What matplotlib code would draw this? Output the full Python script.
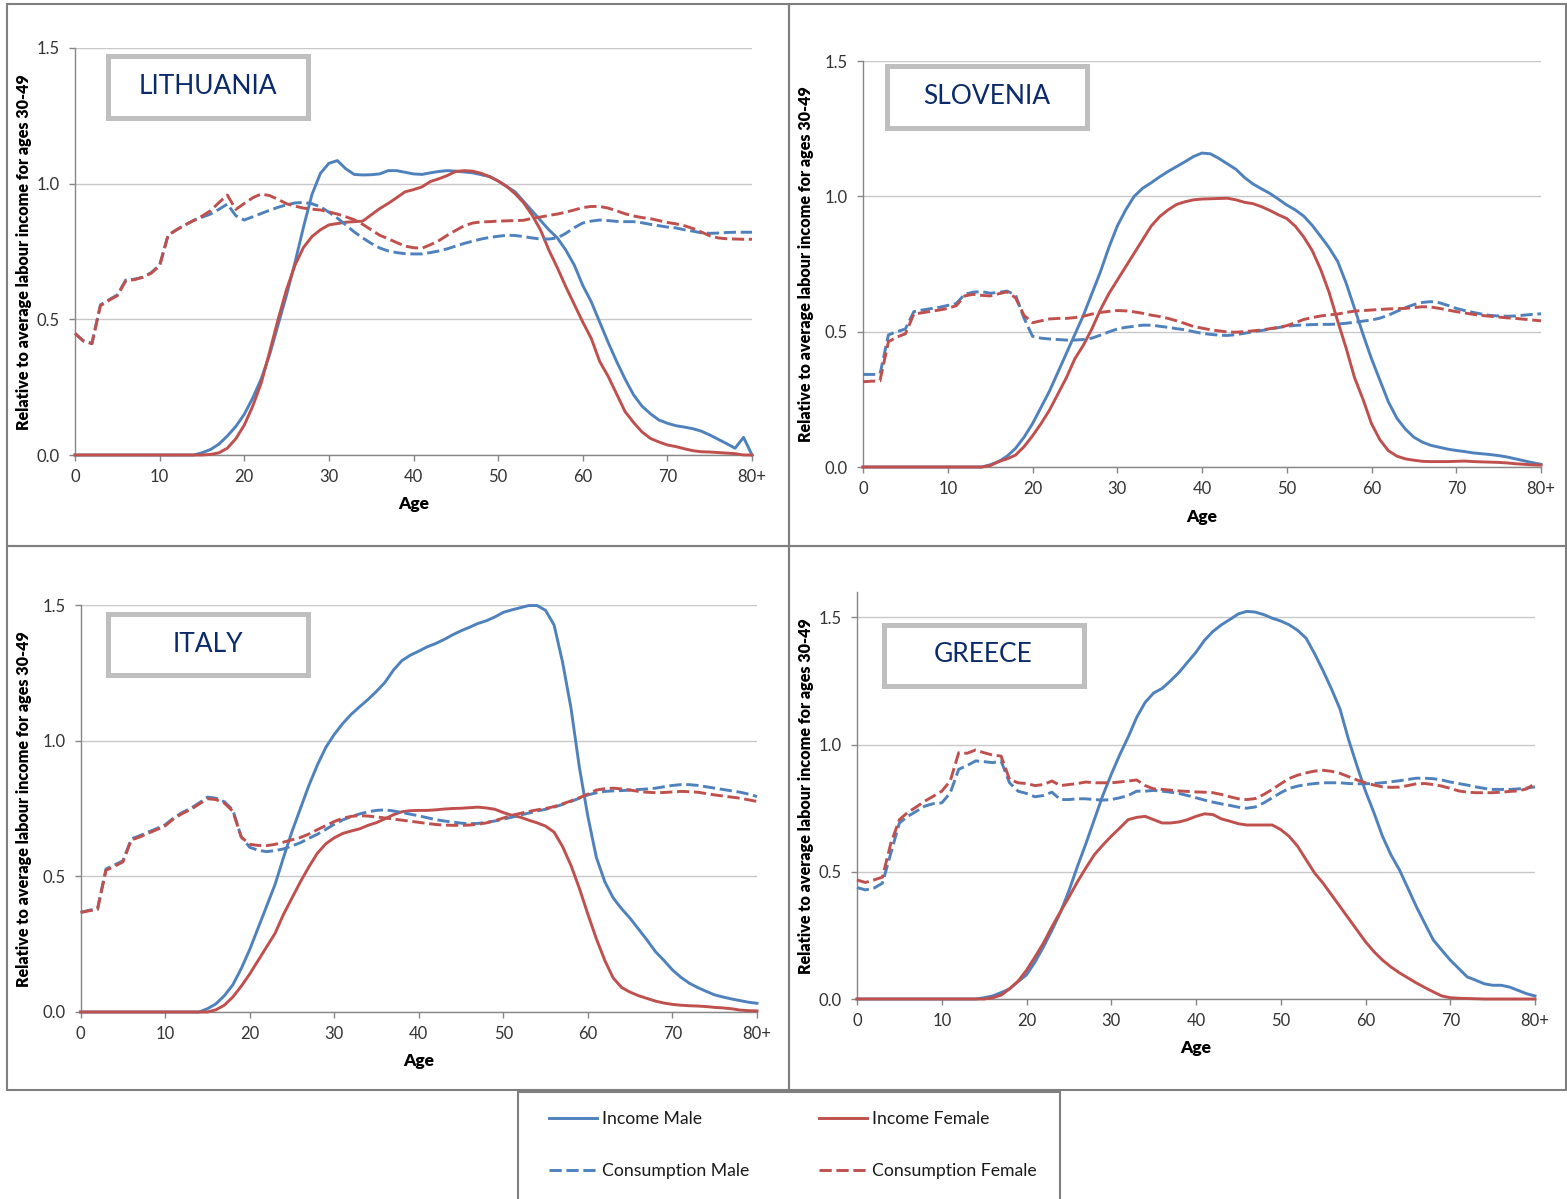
import matplotlib
matplotlib.use("Agg")
import matplotlib.pyplot as plt
from matplotlib.patches import Rectangle
from matplotlib.lines import Line2D

# ---------------- DATA ----------------
ages = list(range(0, 81))
age_ticks = [0, 10, 20, 30, 40, 50, 60, 70, 80]
age_tick_labels = ["0", "10", "20", "30", "40", "50", "60", "70", "80+"]
value_ticks = [0.0, 0.5, 1.0, 1.5]
series_names = ["Income Male", "Income Female", "Consumption Male", "Consumption Female"]
countries = ["LITHUANIA", "SLOVENIA", "ITALY", "GREECE"]

# Lithuania
lt_income_male = [0, 0, 0, 0, 0, 0, 0, 0, 0, 0, 0, 0, 0, 0, 0.0,
                  0.008, 0.02, 0.04, 0.07, 0.105, 0.15, 0.21, 0.28, 0.37, 0.48, 0.59, 0.71, 0.84, 0.96, 1.038,
                  1.075, 1.085, 1.055, 1.034, 1.032, 1.033, 1.036, 1.048, 1.048, 1.042,
                  1.036, 1.034, 1.04, 1.045, 1.048, 1.046, 1.043, 1.04, 1.033, 1.026,
                  1.01, 0.99, 0.97, 0.935, 0.9, 0.865, 0.83, 0.8, 0.755, 0.7,
                  0.625, 0.565, 0.49, 0.415, 0.345, 0.28, 0.222, 0.18, 0.152, 0.129,
                  0.117, 0.108, 0.103, 0.097, 0.088, 0.074, 0.058, 0.042, 0.025, 0.065, 0.0]
lt_income_female = [0, 0, 0, 0, 0, 0, 0, 0, 0, 0, 0, 0, 0, 0, 0, 0,
                    0.002, 0.008, 0.025, 0.06, 0.11, 0.18, 0.265, 0.38, 0.5, 0.61, 0.7, 0.765, 0.805, 0.83,
                    0.848, 0.853, 0.858, 0.86, 0.862, 0.885, 0.908, 0.927, 0.948, 0.97,
                    0.978, 0.988, 1.008, 1.018, 1.03, 1.045, 1.048, 1.046, 1.038, 1.026,
                    1.01, 0.99, 0.963, 0.93, 0.885, 0.83, 0.755, 0.69, 0.62, 0.555,
                    0.49, 0.43, 0.345, 0.29, 0.225, 0.16, 0.12, 0.085, 0.061, 0.048,
                    0.037, 0.031, 0.023, 0.016, 0.012, 0.011, 0.009, 0.007, 0.005, 0.0, 0.0]
lt_cons_male = [0.448, 0.42, 0.412, 0.553, 0.572, 0.59, 0.645, 0.648, 0.655, 0.672,
                0.7, 0.81, 0.83, 0.848, 0.864, 0.876, 0.888, 0.905, 0.925, 0.882,
                0.866, 0.878, 0.89, 0.902, 0.913, 0.922, 0.929, 0.931, 0.926, 0.915,
                0.895, 0.873, 0.848, 0.822, 0.8, 0.78, 0.763, 0.752, 0.746, 0.742,
                0.741, 0.741, 0.746, 0.752, 0.76, 0.77, 0.78, 0.788, 0.796, 0.802,
                0.806, 0.81, 0.809, 0.805, 0.8, 0.796, 0.796, 0.8, 0.817, 0.838,
                0.855, 0.862, 0.866, 0.864, 0.861, 0.86, 0.86, 0.856, 0.85, 0.845,
                0.84, 0.837, 0.83, 0.825, 0.819, 0.817, 0.818, 0.82, 0.821, 0.821, 0.821]
lt_cons_female = [0.448, 0.42, 0.41, 0.55, 0.57, 0.587, 0.642, 0.646, 0.655, 0.67,
                  0.697, 0.81, 0.83, 0.848, 0.864, 0.88, 0.9, 0.93, 0.958, 0.905,
                  0.927, 0.948, 0.962, 0.956, 0.942, 0.926, 0.917, 0.91, 0.906, 0.903,
                  0.896, 0.888, 0.878, 0.867, 0.85, 0.83, 0.81, 0.797, 0.783, 0.77,
                  0.764, 0.762, 0.775, 0.79, 0.81, 0.828, 0.845, 0.855, 0.859, 0.86,
                  0.862, 0.863, 0.864, 0.865, 0.872, 0.877, 0.883, 0.888, 0.895, 0.903,
                  0.912, 0.916, 0.916, 0.91, 0.9, 0.889, 0.881, 0.875, 0.871, 0.864,
                  0.857, 0.852, 0.845, 0.835, 0.822, 0.808, 0.8, 0.797, 0.796, 0.795, 0.795]

# Slovenia
si_income_male = [0, 0, 0, 0, 0, 0, 0, 0, 0, 0, 0, 0, 0, 0, 0.0,
                  0.008, 0.02, 0.04, 0.069, 0.11, 0.16, 0.22, 0.28, 0.35, 0.42, 0.49, 0.56, 0.64, 0.72, 0.81,
                  0.89, 0.95, 1.0, 1.03, 1.05, 1.072, 1.092, 1.11, 1.128, 1.147,
                  1.16, 1.157, 1.14, 1.12, 1.1, 1.07, 1.046, 1.028, 1.011, 0.99,
                  0.968, 0.95, 0.927, 0.893, 0.852, 0.81, 0.76, 0.68, 0.586, 0.49,
                  0.4, 0.32, 0.24, 0.18, 0.14, 0.11, 0.092, 0.08, 0.073, 0.066,
                  0.061, 0.057, 0.052, 0.049, 0.046, 0.042, 0.037, 0.03, 0.023, 0.016, 0.01]
si_income_female = [0, 0, 0, 0, 0, 0, 0, 0, 0, 0, 0, 0, 0, 0, 0.0,
                    0.005, 0.02, 0.03, 0.044, 0.075, 0.115, 0.16, 0.21, 0.27, 0.33, 0.4, 0.45, 0.51, 0.58, 0.64,
                    0.69, 0.74, 0.79, 0.84, 0.89, 0.925, 0.95, 0.97, 0.98, 0.987,
                    0.99, 0.991, 0.992, 0.993, 0.987, 0.978, 0.973, 0.962, 0.948, 0.932,
                    0.918, 0.89, 0.85, 0.8, 0.73, 0.645, 0.54, 0.44, 0.33, 0.25,
                    0.16, 0.1, 0.06, 0.04, 0.03, 0.025, 0.021, 0.02, 0.02, 0.02,
                    0.021, 0.022, 0.02, 0.019, 0.018, 0.017, 0.015, 0.012, 0.01, 0.008, 0.007]
si_cons_male = [0.342, 0.342, 0.342, 0.488, 0.5, 0.51, 0.574, 0.58, 0.585, 0.59,
                0.597, 0.604, 0.638, 0.646, 0.648, 0.642, 0.645, 0.65, 0.635, 0.55,
                0.483, 0.476, 0.473, 0.471, 0.469, 0.469, 0.471, 0.476, 0.487, 0.499,
                0.51, 0.516, 0.52, 0.524, 0.524, 0.52, 0.516, 0.511, 0.507, 0.5,
                0.494, 0.49, 0.487, 0.486, 0.489, 0.494, 0.5, 0.504, 0.509, 0.515,
                0.52, 0.523, 0.525, 0.526, 0.527, 0.527, 0.528, 0.531, 0.535, 0.539,
                0.543, 0.55, 0.561, 0.575, 0.589, 0.6, 0.608, 0.611, 0.607, 0.597,
                0.586, 0.578, 0.571, 0.565, 0.56, 0.558, 0.557, 0.558, 0.561, 0.564, 0.566]
si_cons_female = [0.315, 0.317, 0.318, 0.463, 0.48, 0.492, 0.565, 0.57, 0.575, 0.58,
                  0.586, 0.596, 0.632, 0.638, 0.634, 0.632, 0.64, 0.647, 0.625, 0.56,
                  0.533, 0.54, 0.547, 0.549, 0.549, 0.552, 0.557, 0.565, 0.571, 0.575,
                  0.578, 0.577, 0.573, 0.568, 0.561, 0.556, 0.549, 0.54, 0.53, 0.519,
                  0.513, 0.507, 0.503, 0.499, 0.498, 0.5, 0.503, 0.506, 0.511, 0.516,
                  0.522, 0.533, 0.545, 0.552, 0.558, 0.562, 0.565, 0.571, 0.576, 0.578,
                  0.58, 0.582, 0.584, 0.585, 0.586, 0.589, 0.592, 0.591, 0.586, 0.58,
                  0.574, 0.569, 0.564, 0.56, 0.557, 0.554, 0.551, 0.549, 0.546, 0.543, 0.54]

# Italy
it_income_male = [0, 0, 0, 0, 0, 0, 0, 0, 0, 0, 0, 0, 0, 0, 0.0,
                  0.012, 0.03, 0.06, 0.1, 0.16, 0.23, 0.31, 0.39, 0.47, 0.57, 0.665, 0.75, 0.835, 0.91, 0.975,
                  1.023, 1.063, 1.097, 1.125, 1.152, 1.182, 1.215, 1.26, 1.295, 1.315,
                  1.33, 1.346, 1.358, 1.373, 1.39, 1.405, 1.418, 1.432, 1.442, 1.456,
                  1.473, 1.482, 1.49, 1.498, 1.498, 1.48, 1.426, 1.29, 1.12, 0.9,
                  0.72, 0.57, 0.48, 0.42, 0.38, 0.345, 0.305, 0.265, 0.222, 0.19,
                  0.155, 0.128, 0.106, 0.09, 0.076, 0.063, 0.055, 0.048, 0.042, 0.036, 0.032]
it_income_female = [0, 0, 0, 0, 0, 0, 0, 0, 0, 0, 0, 0, 0, 0, 0, 0,
                    0.008, 0.025, 0.055, 0.095, 0.14, 0.19, 0.24, 0.29, 0.36, 0.42, 0.48, 0.535, 0.585, 0.62,
                    0.642, 0.658, 0.667, 0.675, 0.688, 0.698, 0.712, 0.727, 0.738, 0.742,
                    0.743, 0.743, 0.745, 0.748, 0.75, 0.751, 0.753, 0.755, 0.752, 0.747,
                    0.735, 0.725, 0.718, 0.707, 0.697, 0.685, 0.663, 0.61, 0.54, 0.455,
                    0.36, 0.27, 0.19, 0.125, 0.09, 0.073, 0.06, 0.05, 0.04, 0.033,
                    0.028, 0.025, 0.023, 0.022, 0.02, 0.017, 0.015, 0.012, 0.007, 0.005, 0.004]
it_cons_male = [0.367, 0.375, 0.38, 0.527, 0.542, 0.557, 0.638, 0.65, 0.663, 0.676,
                0.69, 0.715, 0.735, 0.75, 0.77, 0.792, 0.788, 0.775, 0.745, 0.645,
                0.607, 0.596, 0.591, 0.595, 0.601, 0.612, 0.624, 0.64, 0.655, 0.673,
                0.692, 0.708, 0.72, 0.73, 0.738, 0.743, 0.745, 0.741, 0.735, 0.729,
                0.723, 0.716, 0.709, 0.704, 0.7, 0.696, 0.694, 0.695, 0.699, 0.704,
                0.711, 0.718, 0.726, 0.733, 0.741, 0.747, 0.755, 0.765, 0.776, 0.788,
                0.8, 0.808, 0.813, 0.815, 0.816, 0.818, 0.82, 0.822, 0.825, 0.83,
                0.835, 0.838, 0.838, 0.835, 0.83, 0.825, 0.82, 0.815, 0.81, 0.803, 0.794]
it_cons_female = [0.367, 0.373, 0.378, 0.522, 0.537, 0.553, 0.634, 0.645, 0.659, 0.672,
                  0.686, 0.712, 0.731, 0.746, 0.766, 0.786, 0.783, 0.77, 0.74, 0.645,
                  0.618, 0.614, 0.613, 0.618, 0.626, 0.635, 0.643, 0.656, 0.672, 0.687,
                  0.702, 0.714, 0.721, 0.724, 0.722, 0.719, 0.715, 0.711, 0.707, 0.703,
                  0.699, 0.695, 0.691, 0.689, 0.688, 0.688, 0.689, 0.692, 0.697, 0.705,
                  0.715, 0.725, 0.732, 0.739, 0.745, 0.75, 0.757, 0.767, 0.778, 0.79,
                  0.803, 0.818, 0.823, 0.825, 0.822, 0.818, 0.813, 0.81, 0.808, 0.809,
                  0.811, 0.813, 0.812, 0.81, 0.805, 0.8, 0.796, 0.792, 0.788, 0.782, 0.776]

# Greece
gr_income_male = [0, 0, 0, 0, 0, 0, 0, 0, 0, 0, 0, 0, 0, 0, 0.0,
                  0.005, 0.012, 0.025, 0.04, 0.068, 0.095, 0.145, 0.205, 0.27, 0.34, 0.425, 0.52, 0.61, 0.705, 0.8,
                  0.883, 0.96, 1.03, 1.107, 1.166, 1.203, 1.221, 1.251, 1.284, 1.324,
                  1.363, 1.41, 1.445, 1.471, 1.492, 1.514, 1.524, 1.521, 1.511, 1.497,
                  1.486, 1.471, 1.449, 1.418, 1.357, 1.29, 1.218, 1.139, 1.02, 0.916,
                  0.817, 0.732, 0.64, 0.567, 0.508, 0.436, 0.363, 0.297, 0.232, 0.192,
                  0.153, 0.12, 0.087, 0.074, 0.06, 0.054, 0.054, 0.047, 0.034, 0.021, 0.012]
gr_income_female = [0, 0, 0, 0, 0, 0, 0, 0, 0, 0, 0, 0, 0, 0, 0, 0,
                    0.005, 0.015, 0.04, 0.07, 0.113, 0.165, 0.22, 0.284, 0.343, 0.4, 0.46, 0.515, 0.567, 0.605,
                    0.64, 0.672, 0.705, 0.714, 0.718, 0.705, 0.692, 0.692, 0.696, 0.705,
                    0.718, 0.728, 0.725, 0.708, 0.699, 0.689, 0.684, 0.684, 0.684, 0.684,
                    0.666, 0.639, 0.6, 0.547, 0.495, 0.455, 0.409, 0.363, 0.317, 0.271,
                    0.225, 0.186, 0.153, 0.126, 0.103, 0.083, 0.063, 0.045, 0.028, 0.012,
                    0.005, 0.003, 0.002, 0.001, 0.0, 0.0, 0.0, 0.0, 0.0, 0.0, 0.0]
gr_cons_male = [0.438, 0.429, 0.436, 0.455, 0.574, 0.692, 0.718, 0.738, 0.758, 0.768,
                0.771, 0.81, 0.903, 0.918, 0.936, 0.933, 0.929, 0.936, 0.85, 0.817,
                0.808, 0.795, 0.8, 0.813, 0.784, 0.784, 0.787, 0.787, 0.784, 0.782,
                0.784, 0.791, 0.8, 0.817, 0.817, 0.82, 0.817, 0.813, 0.808, 0.8,
                0.791, 0.782, 0.774, 0.767, 0.761, 0.754, 0.75, 0.755, 0.771, 0.791,
                0.811, 0.828, 0.837, 0.843, 0.847, 0.85, 0.85, 0.85, 0.847, 0.846,
                0.846, 0.847, 0.85, 0.854, 0.858, 0.863, 0.868, 0.868, 0.866, 0.861,
                0.853, 0.847, 0.841, 0.834, 0.828, 0.824, 0.824, 0.824, 0.826, 0.829, 0.834]
gr_cons_female = [0.468, 0.458, 0.468, 0.479, 0.613, 0.705, 0.734, 0.755, 0.778, 0.797,
                  0.817, 0.857, 0.968, 0.966, 0.979, 0.968, 0.959, 0.955, 0.863, 0.85,
                  0.847, 0.839, 0.843, 0.857, 0.839, 0.843, 0.847, 0.853, 0.85, 0.85,
                  0.85, 0.853, 0.857, 0.861, 0.839, 0.826, 0.824, 0.821, 0.818, 0.816,
                  0.814, 0.813, 0.811, 0.804, 0.795, 0.787, 0.784, 0.788, 0.804, 0.824,
                  0.846, 0.867, 0.88, 0.889, 0.896, 0.899, 0.895, 0.887, 0.874, 0.861,
                  0.85, 0.841, 0.834, 0.832, 0.833, 0.839, 0.846, 0.847, 0.843, 0.837,
                  0.828, 0.818, 0.813, 0.811, 0.811, 0.811, 0.813, 0.816, 0.818, 0.826, 0.847]

# ---------------- STYLE / LAYOUT ----------------
plt.rcParams['font.family'] = ['Lato', 'DejaVu Sans']

W, H = 1567, 1199
BLUE = '#4F81BD'
RED = '#C0504D'
GRID = '#C8C8C8'
AXCOL = '#868686'
BORDER = '#7F7F7F'
BOXCOL = '#BFBFBF'
NAVY = '#0B2A6B'
DASH = (0, (4.2, 1.6))


def fx(px):
    return px / W


def fy(py):
    return 1 - py / H


fig = plt.figure(figsize=(W / 100, H / 100), dpi=100)

panel_data = {
    "LITHUANIA": (lt_income_male, lt_income_female, lt_cons_male, lt_cons_female),
    "SLOVENIA": (si_income_male, si_income_female, si_cons_male, si_cons_female),
    "ITALY": (it_income_male, it_income_female, it_cons_male, it_cons_female),
    "GREECE": (gr_income_male, gr_income_female, gr_cons_male, gr_cons_female),
}

layout = {
    "LITHUANIA": dict(ax=(75, 48, 752, 455), ymax=1.5, box=(105, 54, 310, 120),
                      ylab=(24, 252), xlab=504, border=(7, 4, 789, 546)),
    "SLOVENIA": dict(ax=(863, 61, 1541, 467), ymax=1.5, box=(884, 64, 1089, 130),
                     ylab=(806, 264), xlab=517, border=(789, 4, 1566, 546)),
    "ITALY": dict(ax=(80.6, 605, 757, 1012), ymax=1.5, box=(105, 611, 310, 677),
                  ylab=(24, 809), xlab=1061, border=(7, 546, 789, 1090)),
    "GREECE": dict(ax=(857, 592, 1535, 999), ymax=1.6, box=(881, 622, 1086, 688),
                   ylab=(806, 796), xlab=1048, border=(789, 546, 1566, 1090)),
}

styles = [dict(color=BLUE, ls='-'), dict(color=RED, ls='-'),
          dict(color=BLUE, ls=DASH), dict(color=RED, ls=DASH)]

for country in countries:
    L = layout[country]
    x0, y0, x1, y1 = L["ax"]
    ax = fig.add_axes([fx(x0), fy(y1), (x1 - x0) / W, (y1 - y0) / H])
    for vals, st in zip(panel_data[country], styles):
        ax.plot(ages, vals, color=st['color'], linestyle=st['ls'], lw=2.1,
                solid_joinstyle='round', dash_joinstyle='round', clip_on=False, zorder=3)
    ax.set_xlim(0, 80)
    ax.set_ylim(0, L["ymax"])
    ax.set_xticks(age_ticks)
    ax.set_xticklabels(age_tick_labels)
    ax.set_yticks(value_ticks)
    ax.set_yticklabels([f"{v:.1f}" for v in value_ticks])
    ax.yaxis.grid(True, color=GRID, lw=1.0)
    ax.set_axisbelow(True)
    for s in ['top', 'right']:
        ax.spines[s].set_visible(False)
    for s in ['left', 'bottom']:
        ax.spines[s].set_color(AXCOL)
        ax.spines[s].set_linewidth(1.0)
    ax.tick_params(axis='both', direction='out', length=4, width=1, color=AXCOL,
                   labelsize=12, labelcolor='#333333')
    ax.tick_params(axis='x', pad=6)
    ax.tick_params(axis='y', pad=7)
    ax.set_ylabel("Relative to average labour income for ages 30-49", fontsize=11.6,
                  fontweight='heavy', color='black', va='center')
    ax.yaxis.set_label_coords(fx(L["ylab"][0]), fy(L["ylab"][1]), transform=fig.transFigure)
    ax.set_xlabel("Age", fontsize=12.5, fontweight='heavy', color='black', va='center')
    ax.xaxis.set_label_coords(fx((x0 + x1) / 2), fy(L["xlab"]), transform=fig.transFigure)

    # panel border
    bx0, by0, bx1, by1 = L["border"]
    fig.add_artist(Rectangle((fx(bx0), fy(by1)), (bx1 - bx0) / W, (by1 - by0) / H,
                             transform=fig.transFigure, fill=False, edgecolor=BORDER, lw=1.5, zorder=5))
    # country label box
    cx0, cy0, cx1, cy1 = L["box"]
    fig.add_artist(Rectangle((fx(cx0 + 2.5), fy(cy1 - 2.5)), (cx1 - cx0 - 5) / W, (cy1 - cy0 - 5) / H,
                             transform=fig.transFigure, facecolor='white', edgecolor=BOXCOL,
                             lw=3.6, zorder=6))
    fig.text(fx((cx0 + cx1) / 2), fy((cy0 + cy1) / 2), country, ha='center', va='center',
             fontsize=19, color=NAVY, zorder=7)

# legend
legend_box = (518, 1092, 1060, 1201)
fig.add_artist(Rectangle((fx(legend_box[0]), fy(legend_box[3])), (legend_box[2] - legend_box[0]) / W,
                         (legend_box[3] - legend_box[1]) / H, transform=fig.transFigure,
                         fill=False, edgecolor=BORDER, lw=1.5, zorder=5))
handles = [Line2D([], [], color=st['color'], linestyle=st['ls'], lw=2.1) for st in styles]
common = dict(loc='upper left', frameon=False, borderpad=0, borderaxespad=0, handlelength=2.7,
              handletextpad=0.3, labelspacing=2.05, fontsize=12.7, labelcolor='#1a1a1a')
fig.legend([handles[0], handles[2]], [series_names[0], series_names[2]],
           bbox_to_anchor=(fx(549), fy(1111)), **common)
fig.legend([handles[1], handles[3]], [series_names[1], series_names[3]],
           bbox_to_anchor=(fx(819), fy(1111)), **common)

fig.savefig("out.png", dpi=100, facecolor='white')
